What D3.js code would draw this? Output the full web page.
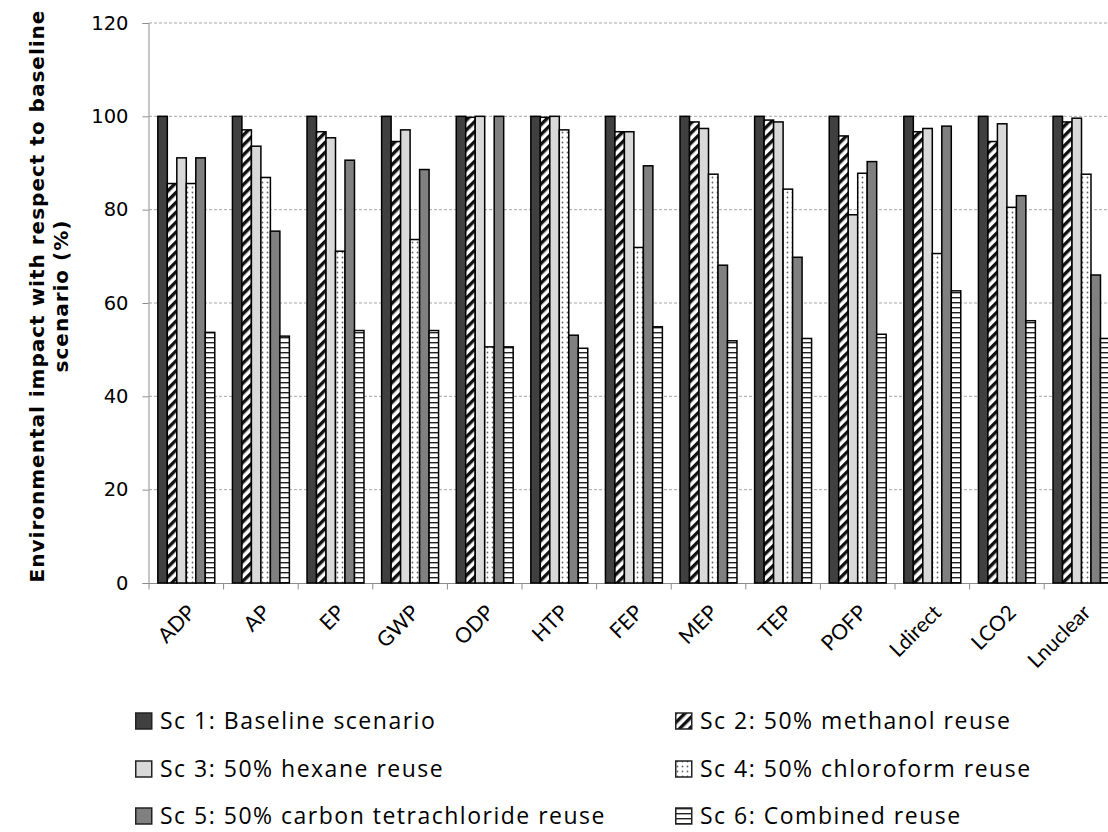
<!DOCTYPE html>
<html><head><meta charset="utf-8">
<script src="https://cdn.jsdelivr.net/npm/d3@7/dist/d3.min.js"></script>
<style>body{margin:0;background:#fff}svg{display:block}</style>
</head><body>
<svg id="c" width="1108" height="832"></svg>
<script>
const categories = ["ADP","AP","EP","GWP","ODP","HTP","FEP","MEP","TEP","POFP","Ldirect","LCO2","Lnuclear"];
const seriesNames = ["Sc 1: Baseline scenario","Sc 2: 50% methanol reuse","Sc 3: 50% hexane reuse","Sc 4: 50% chloroform reuse","Sc 5: 50% carbon tetrachloride reuse","Sc 6: Combined reuse"];
const sc1 = [100,100,100,100,100,100,100,100,100,100,100,100,100];
const sc2 = [85.6,97.1,96.7,94.6,99.8,99.8,96.7,98.8,99.2,95.8,96.7,94.6,98.8];
const sc3 = [91.1,93.6,95.4,97.1,100,100,96.7,97.4,98.8,78.9,97.4,98.4,99.6];
const sc4 = [85.6,86.9,71.1,73.6,50.6,97.1,71.9,87.6,84.4,87.8,70.6,80.5,87.6];
const sc5 = [91.1,75.4,90.6,88.6,100,53.1,89.4,68.1,69.8,90.3,97.9,83.0,66.0];
const sc6 = [53.7,52.9,54.1,54.1,50.6,50.3,54.9,51.9,52.4,53.3,62.6,56.2,52.4];
const yTicks = [0,20,40,60,80,100,120];
const series = [sc1,sc2,sc3,sc4,sc5,sc6];

const svg = d3.select("#c");
const defs = svg.append("defs");
const p2 = defs.append("pattern").attr("id","p2").attr("patternUnits","userSpaceOnUse")
  .attr("width",7).attr("height",7).attr("patternTransform","rotate(45)");
p2.append("rect").attr("width",7).attr("height",7).attr("fill","#fff");
p2.append("rect").attr("x",0).attr("width",3.4).attr("height",7).attr("fill","#111");
const p4 = defs.append("pattern").attr("id","p4").attr("patternUnits","userSpaceOnUse")
  .attr("width",5).attr("height",5);
p4.append("rect").attr("width",5).attr("height",5).attr("fill","#fff");
p4.append("circle").attr("cx",2.5).attr("cy",2.5).attr("r",0.9).attr("fill","#666");
const p6 = defs.append("pattern").attr("id","p6").attr("patternUnits","userSpaceOnUse")
  .attr("width",6).attr("height",5);
p6.append("rect").attr("width",6).attr("height",5).attr("fill","#fff");
p6.append("rect").attr("y",2).attr("width",6).attr("height",1.4).attr("fill","#222");

const fills = ["#404040","url(#p2)","#d9d9d9","url(#p4)","#808080","url(#p6)"];

const mLeft = 149, mTop = 23, mBottom = 583;
const catW = 74.6;
const x0 = d3.scaleBand().domain(categories).range([mLeft, mLeft + catW*categories.length]).paddingInner(0).paddingOuter(0);
const x1 = d3.scaleBand().domain(d3.range(6)).range([0, x0.bandwidth()]).paddingInner(0).paddingOuter(0.93);
const y = d3.scaleLinear().domain([0,120]).range([mBottom, mTop]);

svg.append("g").selectAll("line").data(yTicks.filter(d=>d>0)).join("line")
  .attr("x1",mLeft).attr("x2",1108).attr("y1",d=>y(d)).attr("y2",d=>y(d))
  .attr("stroke","#a6a6a6").attr("stroke-width",1).attr("stroke-dasharray","3,2");

const yAxis = svg.append("g").attr("transform",`translate(${mLeft-0.5},0)`)
  .call(d3.axisLeft(y).tickValues(yTicks).tickSize(6).tickPadding(14));
yAxis.select(".domain").attr("stroke","#8c8c8c");
yAxis.selectAll(".tick line").attr("stroke","#8c8c8c");
yAxis.selectAll("text").attr("font-family","DejaVu Sans, Verdana, sans-serif").attr("font-size",19.5).attr("fill","#000");

const xAxis = svg.append("g").attr("transform",`translate(0,${mBottom+0.5})`);
xAxis.append("line").attr("x1",mLeft).attr("x2",1108).attr("stroke","#8c8c8c");
xAxis.selectAll("line.t").data(d3.range(categories.length+1)).join("line").attr("class","t")
  .attr("x1",i=>mLeft+i*x0.step()).attr("x2",i=>mLeft+i*x0.step()).attr("y1",0).attr("y2",6).attr("stroke","#8c8c8c");
xAxis.selectAll("text").data(categories).join("text")
  .attr("transform",d=>`translate(${x0(d)+x0.bandwidth()/2},${20}) rotate(-45)`)
  .attr("text-anchor","end").attr("dy","0.7em")
  .attr("font-family","Lato, 'Open Sans', sans-serif").attr("font-size",21).attr("fill","#000")
  .text(d=>d);

const g = svg.append("g");
series.forEach((vals,si)=>{
  g.append("g").selectAll("rect").data(vals).join("rect")
    .attr("x",(d,i)=>x0(categories[i])+x1(si))
    .attr("width",x1.bandwidth())
    .attr("y",d=>y(d)).attr("height",d=>y(0)-y(d))
    .attr("fill",fills[si]).attr("stroke","#000").attr("stroke-width",1.5);
});

const yt = svg.append("text").attr("transform","translate(44,296) rotate(-90)")
  .attr("text-anchor","middle").attr("font-family","DejaVu Sans, Verdana, sans-serif")
  .attr("font-weight","bold").attr("font-size",20).attr("letter-spacing",1).attr("fill","#000");
yt.append("tspan").attr("x",0).attr("dy",0).text("Environmental impact with respect to baseline");
yt.append("tspan").attr("x",0).attr("dy",24).text("scenario (%)");

const legX = [135, 675], legY = [721, 769, 816];
seriesNames.forEach((name,i)=>{
  const col = i%2, row = Math.floor(i/2);
  const lg = svg.append("g").attr("transform",`translate(${legX[col]},${legY[row]})`);
  lg.append("rect").attr("x",0.75).attr("y",-8).attr("width",16).attr("height",16)
    .attr("fill",fills[i]).attr("stroke","#222").attr("stroke-width",1.5);
  lg.append("text").attr("x",25).attr("y",0).attr("dy","0.35em")
    .attr("font-family","'Open Sans', Lato, sans-serif").attr("font-size",23).attr("letter-spacing",1.5).attr("fill","#000")
    .text(name);
});
</script>
</body></html>
